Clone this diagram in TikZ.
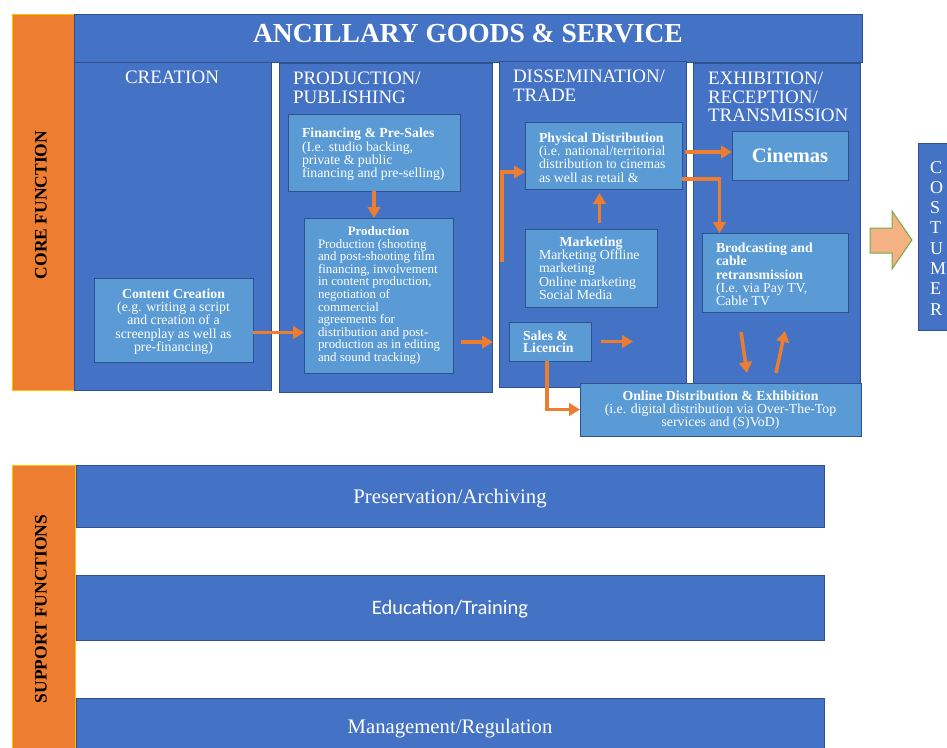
\documentclass[tikz,border=0pt]{standalone}
\usepackage{fontspec}
\setmainfont{Liberation Serif}
\newfontfamily\calibrifont{Carlito}
\usetikzlibrary{arrows.meta,calc}
\definecolor{colblue}{HTML}{4472C4}
\definecolor{subblue}{HTML}{5B9BD5}
\definecolor{navy}{HTML}{2F528F}
\definecolor{orng}{HTML}{ED7D31}
\definecolor{gold}{HTML}{FFC000}
\definecolor{peach}{HTML}{F4B183}
\definecolor{grn}{HTML}{70AD47}
\begin{document}
\begin{tikzpicture}[x=1pt,y=-1pt,
  box/.style={anchor=north west, inner sep=0pt, outer sep=0pt, line width=1pt},
  colbox/.style={box, draw=navy, fill=colblue},
  subbox/.style={box, draw=navy, fill=subblue},
  orbar/.style={box, draw=gold, line width=0.8pt, fill=orng},
  wt/.style={text=white, inner sep=0pt, outer sep=0pt},
  coltitle/.style={wt, font=\fontsize{19}{18.5}\selectfont, align=left, anchor=north west},
  subtxt/.style={wt, font=\fontsize{13.8}{13.3}\selectfont},
  sidelabel/.style={inner sep=0pt, font=\bfseries\fontsize{17.5}{17.5}\selectfont, rotate=90, anchor=base},
  supptxt/.style={wt, anchor=base, font=\fontsize{20.7}{20.7}\selectfont},
  arr/.style={draw=orng, line width=3.5pt, -{Triangle[length=11pt,width=12.5pt]}}
]
\useasboundingbox (0,0) rectangle (947,747);
\clip (0,0) rectangle (947,747);

% orange side bars
\node[orbar, minimum width=63pt, minimum height=376pt] (corebar) at (12,14) {};
\node[orbar, minimum width=63pt, minimum height=300pt] (suppbar) at (12,465) {};
\node[sidelabel] (coretxt) at (46.5,205) {CORE FUNCTION};
\node[sidelabel] (supptxtlbl) at (46.5,609) {SUPPORT FUNCTIONS};

% header and columns
\node[colbox, minimum width=788pt, minimum height=48pt] (header) at (74,14) {};
\node[wt, anchor=base, font=\bfseries\fontsize{27.5}{27.5}\selectfont] (headertxt) at (468,42) {ANCILLARY GOODS \& SERVICE};
\node[colbox, minimum width=197pt, minimum height=328pt] (colcre) at (74,62) {};
\node[colbox, minimum width=213pt, minimum height=329pt] (colprod) at (279,63) {};
\node[colbox, minimum width=187pt, minimum height=326pt] (coldis) at (499,61) {};
\node[colbox, minimum width=167pt, minimum height=321pt] (colexh) at (693,63) {};

\node[wt, anchor=base, font=\fontsize{19}{19}\selectfont] (tcre) at (172,83) {CREATION};
\node[coltitle] (tprod) at (293,72) {\strut PRODUCTION/\\PUBLISHING};
\node[coltitle] (tdis) at (513,70) {\strut DISSEMINATION/\\TRADE};
\node[coltitle] (texh) at (708,72) {\strut EXHIBITION/\\RECEPTION/\\TRANSMISSION};

% sub boxes
\node[subbox, minimum width=159pt, minimum height=84pt] (cc) at (94,278) {};
\node[subbox, minimum width=172pt, minimum height=77pt] (fin) at (288,114) {};
\node[subbox, minimum width=149pt, minimum height=155pt] (prod) at (304,218) {};
\node[subbox, minimum width=157pt, minimum height=67pt] (phys) at (525,122) {};
\node[subbox, minimum width=132pt, minimum height=78pt] (mkt) at (525,229) {};
\node[subbox, minimum width=82pt, minimum height=39pt] (sales) at (509,322) {};
\node[subbox, minimum width=116pt, minimum height=49pt] (cin) at (732,131) {};
\node[subbox, minimum width=146pt, minimum height=79pt] (bc) at (702,233) {};
\node[subbox, minimum width=281pt, minimum height=53pt] (online) at (580,383) {};
\node[subbox, draw=navy, fill=colblue, minimum width=40pt, minimum height=187pt] (cons) at (918,143) {};

% texts in sub boxes
\node[subtxt, align=center] (cctxt) at ($(cc.center)+(0,1.5)$) {\textbf{Content Creation}\\(e.g. writing a script\\and creation of a\\screenplay as well as\\pre-financing)};
\node[subtxt, align=left, anchor=west] (fintxt) at ($(fin.west)+(14,2)$) {\textbf{Financing \& Pre-Sales}\\(I.e. studio backing,\\private \& public\\financing and pre-selling)};
\node[wt, font=\fontsize{12.9}{12.6}\selectfont, align=left, anchor=west] (prodtxt) at ($(prod.west)+(14,0)$) {\makebox[121pt]{\textbf{Production}}\\Production (shooting\\and post-shooting film\\financing, involvement\\in content production,\\negotiation of\\commercial\\agreements for\\distribution and post-\\production as in editing\\and sound tracking)};
\node[subtxt, align=left, anchor=west] (phystxt) at ($(phys.west)+(14,2)$) {\textbf{Physical Distribution}\\(i.e. national/territorial\\distribution to cinemas\\as well as retail \&};
\node[subtxt, align=left, anchor=west] (mkttxt) at ($(mkt.west)+(14,0)$) {\makebox[104pt]{\textbf{Marketing}}\\Marketing Offline\\marketing\\Online marketing\\Social Media};
\node[subtxt, align=left, anchor=west, font=\bfseries\fontsize{13.8}{12.5}\selectfont] (salestxt) at ($(sales.west)+(14,0.5)$) {Sales \&\\Licencin};
\node[wt, font=\bfseries\fontsize{20.5}{20.5}\selectfont] (cintxt) at (cin.center) {Cinemas};
\node[subtxt, align=left, anchor=west] (bctxt) at ($(bc.west)+(14,2)$) {\textbf{Brodcasting and}\\\textbf{cable}\\\textbf{retransmission}\\(I.e. via Pay TV,\\Cable TV};
\node[subtxt, align=center] (onlinetxt) at ($(online.center)+(0,0.5)$) {\textbf{Online Distribution \& Exhibition}\\(i.e. digital distribution via Over-The-Top\\services and (S)VoD)};
\node[wt, anchor=north west, align=left, font=\fontsize{18}{20.3}\selectfont] (constxt) at (930,158.8) {\strut C\\O\\S\\T\\U\\M\\E\\R};

% big arrow to consumer
\draw[fill=peach, draw=grn, line width=1pt] (870,228) -- (892,228) -- (892,211) -- (912,240) -- (892,269) -- (892,253) -- (870,253) -- cycle;

% connectors
\coordinate (c1) at (502,262);
\coordinate (p2) at (493,342);
\coordinate (s2) at (633,341.5);
\coordinate (e1) at (741,332);
\coordinate (e2) at (747,373);
\coordinate (e3) at (776,373);
\coordinate (e4) at (785,331);
\draw[arr] ($(cc.east)+(0,12.5)$) -- ($(cc.east -| prod.west)+(0,12.5)$);
\draw[arr] (fin.south) -- (fin.south |- prod.north);
\draw[arr] ($(prod.east)+(8,46.5)$) -- (p2);
\draw[arr] ($(mkt.north)+(8.5,-6)$) -- ($(mkt.north |- phys.south)+(8.5,4)$);
\draw[arr] (c1) |- ($(phys.west)+(0,16.5)$);
\draw[arr] ($(phys.east)+(3,-3.5)$) -- ($(cin.west)+(0,-3.5)$);
\draw[arr] ($(phys.south east)+(0,-10)$) -| ($(bc.north)+(-55.5,0)$);
\draw[arr] ($(sales.east)+(10,0)$) -- (s2);
\draw[arr] ($(sales.south)+(-3,0)$) |- (online.west);
\draw[arr] (e1) -- (e2);
\draw[arr] (e3) -- (e4);

% support functions
\node[colbox, minimum width=748pt, minimum height=62pt] (pres) at (76,465) {};
\node[colbox, minimum width=748pt, minimum height=65pt] (edu) at (76,575) {};
\node[colbox, minimum width=748pt, minimum height=70pt] (mgmt) at (76,698) {};
\node[supptxt] (prestxt) at (450,503) {Preservation/Archiving};
\node[supptxt, font=\calibrifont\fontsize{20.5}{20.5}\selectfont] (edutxt) at (450,614) {Education/Training};
\node[supptxt] (mgmttxt) at (450,733) {Management/Regulation};
\end{tikzpicture}
\end{document}
